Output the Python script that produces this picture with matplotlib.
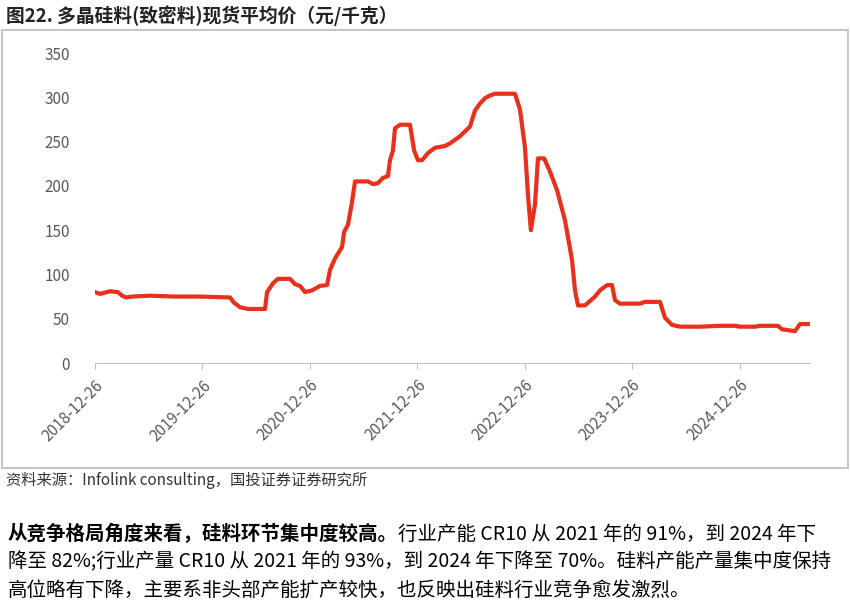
import matplotlib
matplotlib.use("Agg")
import matplotlib.pyplot as plt
import pandas as pd
from matplotlib.patches import Rectangle

plt.rcParams['font.family'] = ['Noto Sans CJK SC', 'DejaVu Sans']

dates = ["2018-12-26","2019-01-12","2019-02-15","2019-03-14","2019-03-28","2019-04-10","2019-05-01",
"2019-07-01","2019-09-24","2019-12-18","2020-03-29","2020-04-12","2020-05-02","2020-05-29","2020-07-26",
"2020-08-02","2020-08-22","2020-09-08","2020-10-19","2020-11-05","2020-11-22","2020-12-09","2021-01-02",
"2021-01-29","2021-02-22","2021-03-04","2021-03-21","2021-04-14","2021-04-21","2021-05-04","2021-05-18",
"2021-05-28","2021-07-11","2021-07-28","2021-08-14","2021-08-31","2021-09-17","2021-09-24","2021-10-04",
"2021-10-11","2021-10-28","2021-12-01","2021-12-15","2021-12-28","2022-01-11","2022-01-31","2022-02-24",
"2022-03-30","2022-04-16","2022-05-20","2022-06-23","2022-07-10","2022-07-27","2022-08-13","2022-08-30",
"2022-09-16","2022-11-23","2022-12-10","2022-12-27","2023-01-06","2023-01-16","2023-01-30","2023-02-09",
"2023-03-02","2023-03-22","2023-04-15","2023-05-12","2023-06-05","2023-06-15","2023-06-25","2023-07-19",
"2023-08-22","2023-09-08","2023-10-02","2023-10-19","2023-10-29","2023-11-15","2024-01-22","2024-02-08",
"2024-03-30","2024-04-16","2024-05-10","2024-06-06","2024-08-13","2024-10-20","2024-12-10","2024-12-27",
"2025-02-16","2025-03-05","2025-05-05","2025-05-19","2025-07-02","2025-07-19","2025-08-22"]
prices = [80,78,81,80,76,74,75,
76,75,75,74,68,63,61,61,
80,90,95,95,89,87,80,82,
87,88,105,118,131,148,156,182,
205,205,202,203,209,211,229,240,
265,269,269,240,229,229,237,243,
245,248,256,267,285,293,299,302,
304,304,286,243,190,150,179,231,
231,216,195,161,116,82,65,65,
75,82,88,88,71,67,67,69,
69,51,43,41,41,42,42,41,
41,42,42,38,36,44,44]
tick_labels = ["2018-12-26","2019-12-26","2020-12-26","2021-12-26","2022-12-26","2023-12-26","2024-12-26"]

title = "图22. 多晶硅料(致密料)现货平均价（元/千克）"
source = "资料来源：Infolink consulting，国投证券证券研究所"
bold_part = "从竞争格局角度来看，硅料环节集中度较高。"
para1 = "行业产能 CR10 从 2021 年的 91%，到 2024 年下"
para2 = "降至 82%;行业产量 CR10 从 2021 年的 93%，到 2024 年下降至 70%。硅料产能产量集中度保持"
para3 = "高位略有下降，主要系非头部产能扩产较快，也反映出硅料行业竞争愈发激烈。"

d = pd.to_datetime(dates)
fig = plt.figure(figsize=(8.5, 6.04), dpi=100)
fig.patches.append(Rectangle((2/850, 1-468/604), 846/850, 438/604, transform=fig.transFigure,
                             fill=False, edgecolor='#bbbbbb', lw=1.2))
ax = fig.add_axes([95/850, 1-363/604, 715/850, 310/604])
ax.plot(d, prices, color='#e8301c', lw=3, solid_joinstyle='round')
ax.set_ylim(0, 350)
ax.set_yticks(range(0, 351, 50))
ax.set_xlim(d[0], d[-1])
tk = pd.to_datetime(tick_labels)
ax.set_xticks(tk)
ax.set_xticklabels(tick_labels, rotation=45, ha='right', rotation_mode='anchor')
for s in ['top', 'right', 'left']:
    ax.spines[s].set_visible(False)
ax.spines['bottom'].set_color('#bfbfbf')
ax.tick_params(axis='y', length=0, labelcolor='#595959', labelsize=11, pad=18)
ax.tick_params(axis='x', length=4, color='#bfbfbf', labelcolor='#595959', labelsize=11, pad=6)

fig.text(6/850, 1-16/604, title, fontsize=13.5, fontweight='bold', va='center', color='#222222')
fig.text(6/850, 1-480/604, source, fontsize=11, style='italic', va='center', color='#333333')
fs = 14
t = fig.text(8/850, 1-534/604, bold_part, fontsize=fs, fontweight='bold', va='center')
fig.canvas.draw()
bb = t.get_window_extent(fig.canvas.get_renderer())
fig.text(bb.x1/850, 1-534/604, para1, fontsize=fs, va='center')
fig.text(8/850, 1-562/604, para2, fontsize=fs, va='center')
fig.text(8/850, 1-590/604, para3, fontsize=fs, va='center')
fig.savefig("out.png", dpi=100)
